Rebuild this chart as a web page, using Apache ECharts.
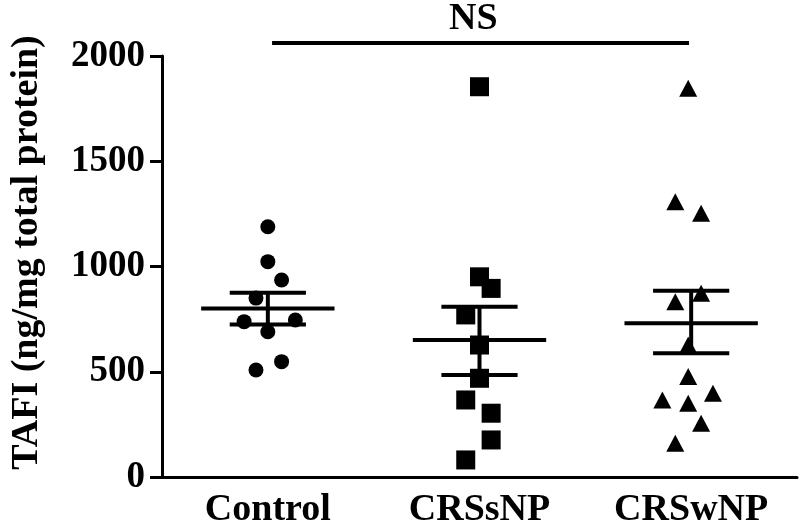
<!DOCTYPE html>
<html>
<head>
<meta charset="utf-8">
<script src="https://cdn.jsdelivr.net/npm/echarts@6/dist/echarts.min.js"></script>
<style>html,body{margin:0;padding:0;background:#fff}#c{width:800px;height:529px}</style>
</head>
<body>
<div id="c"></div>
<script>
var categories = ['Control', 'CRSsNP', 'CRSwNP'];
var yTicks = [0, 500, 1000, 1500, 2000];
// individual values (ng/mg total protein) and horizontal jitter (in category units)
var controlValues = [1189, 1023, 936, 850, 738, 746, 690, 508, 548];
var controlJitter = [0, 0, 0.065, -0.056, -0.112, 0.13, 0, -0.056, 0.065];
var crssnpValues = [1854, 951, 896, 770, 627, 469, 366, 303, 176, 81];
var crssnpJitter = [0, 0, 0.055, -0.065, 0, 0, -0.065, 0.055, 0.055, -0.065];
var crswnpValues = [1847, 1308, 1253, 873, 833, 627, 477, 366, 350, 398, 255, 160];
var crswnpJitter = [-0.014, -0.075, 0.047, 0.047, -0.075, -0.014, -0.014, -0.136, -0.014, 0.103, 0.047, -0.075];
// mean and SEM bounds per group
var means = [800, 651, 730];
var semUpper = [875, 809, 885];
var semLower = [725, 485, 588];
var nsLevel = 2062;
var nsText = 'NS';

function pts(vals, jit, idx) {
  return vals.map(function (v, i) { return [idx + jit[i], v]; });
}
var statData = categories.map(function (c, i) { return [i, means[i], semUpper[i], semLower[i]]; });

var chart = echarts.init(document.getElementById('c'));
var FONT = '"Liberation Serif", "Times New Roman", serif';
chart.setOption({
  animation: false,
  backgroundColor: '#fff',
  grid: { left: 155, right: 3, top: 56, bottom: 52, containLabel: false },
  xAxis: [{
    type: 'category', data: categories, boundaryGap: true,
    axisLine: { onZero: false, lineStyle: { color: '#000', width: 3 } },
    axisTick: { alignWithLabel: true, length: 11, lineStyle: { color: '#000', width: 3 } },
    axisLabel: { color: '#000', fontFamily: FONT, fontWeight: 'bold', fontSize: 38, margin: 14 },
    splitLine: { show: false }
  }, {
    type: 'value', min: -0.5, max: 2.5, show: false
  }],
  yAxis: {
    type: 'value', min: 0, max: 2000, interval: 500,
    name: 'TAFI (ng/mg total protein)', nameLocation: 'middle', nameGap: 116, nameRotate: 90,
    nameTextStyle: { color: '#000', fontFamily: FONT, fontWeight: 'bold', fontSize: 38, padding: [0, 0, 0, 28] },
    axisLine: { show: true, onZero: false, lineStyle: { color: '#000', width: 3 } },
    axisTick: { show: true, length: 12, lineStyle: { color: '#000', width: 3 } },
    axisLabel: { color: '#000', fontFamily: FONT, fontWeight: 'bold', fontSize: 37, margin: 17,
      formatter: function (v) { return String(v); } },
    splitLine: { show: false }
  },
  graphic: [{
    type: 'text', left: 449, top: 0,
    style: { text: nsText, fill: '#000', font: 'bold 38px ' + FONT }
  }],
  series: [
    { type: 'scatter', xAxisIndex: 1, symbol: 'circle', symbolSize: 15, itemStyle: { color: '#000', opacity: 1 }, data: pts(controlValues, controlJitter, 0) },
    { type: 'scatter', xAxisIndex: 1, symbol: 'rect', symbolSize: 19, itemStyle: { color: '#000', opacity: 1 }, data: pts(crssnpValues, crssnpJitter, 1) },
    { type: 'scatter', xAxisIndex: 1, symbol: 'triangle', symbolSize: [18, 17], itemStyle: { color: '#000', opacity: 1 }, data: pts(crswnpValues, crswnpJitter, 2) },
    {
      type: 'custom', xAxisIndex: 0, data: statData, z: 5,
      renderItem: function (params, api) {
        var x = api.value(0);
        var m = api.coord([x, api.value(1)]);
        var up = api.coord([x, api.value(2)]);
        var lo = api.coord([x, api.value(3)]);
        var band = api.size([1, 0])[0];
        var hm = band * 0.315, hs = band * 0.18;
        var st = { stroke: '#000', lineWidth: 4 };
        return { type: 'group', children: [
          { type: 'line', shape: { x1: m[0] - hm, y1: m[1], x2: m[0] + hm, y2: m[1] }, style: st },
          { type: 'line', shape: { x1: m[0], y1: up[1], x2: m[0], y2: lo[1] }, style: st },
          { type: 'line', shape: { x1: m[0] - hs, y1: up[1], x2: m[0] + hs, y2: up[1] }, style: st },
          { type: 'line', shape: { x1: m[0] - hs, y1: lo[1], x2: m[0] + hs, y2: lo[1] }, style: st }
        ]};
      }
    },
    {
      type: 'line', xAxisIndex: 1, clip: false, symbol: 'none',
      lineStyle: { color: '#000', width: 4 },
      data: [[0.02, nsLevel], [1.99, nsLevel]]
    }
  ]
});
</script>
</body>
</html>
